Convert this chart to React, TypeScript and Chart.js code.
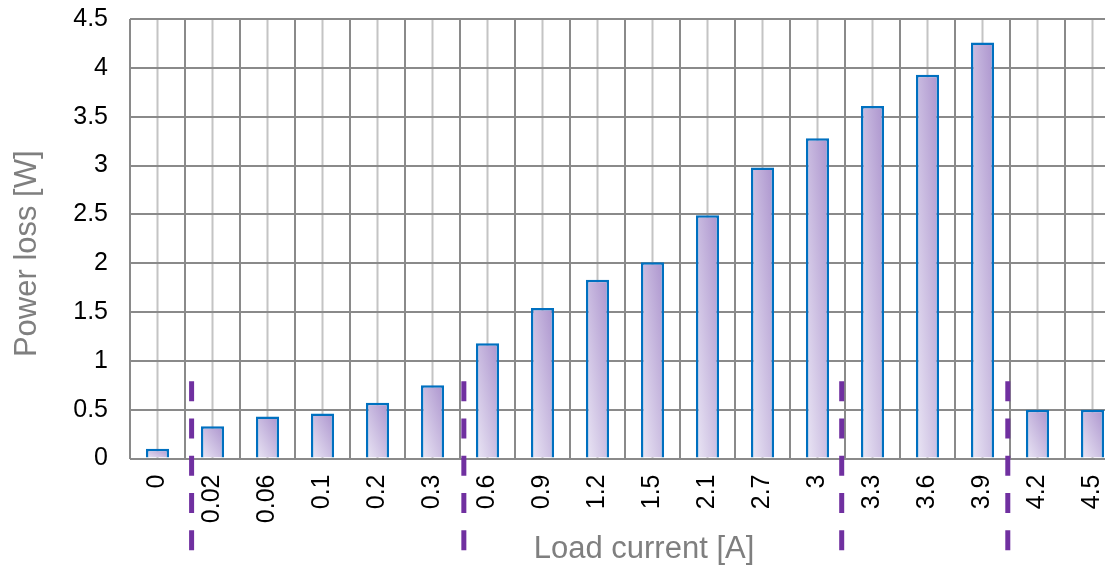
import React, { useEffect, useRef } from "react";
import { Chart, registerables } from "chart.js";

Chart.register(...registerables);

// ---- Data ----
const categories = ["0", "0.02", "0.06", "0.1", "0.2", "0.3", "0.6", "0.9", "1.2", "1.5", "2.1", "2.7", "3", "3.3", "3.6", "3.9", "4.2", "4.5"];
const powerLoss = [0.1, 0.33, 0.43, 0.46, 0.57, 0.75, 1.18, 1.54, 1.83, 2.01, 2.49, 2.98, 3.28, 3.61, 3.93, 4.26, 0.5, 0.5];
const yMin = 0;
const yMax = 4.5;
const yStep = 0.5;
// dashed separators, in category-index units
const separatorPositions = [0.62, 5.57, 12.44, 15.46];
// vertical extent of separators, in y-value units (top, bottom)
const separatorValueRange = [0.79, -0.96];

const FONT = '"Liberation Sans", Arial, sans-serif';
const GRID_DARK = "#8a8a8a";
const GRID_LIGHT = "#c4c4c4";
const BAR_LIGHT = "#ebe7f5";
const BAR_DARK = "#ab93cd";
const BAR_BORDER = "#0070c0";
const SEP_COLOR = "#7030a0";
const BAR_PCT = 0.42;

const centerGridPlugin = {
  id: "centerGrid",
  beforeDraw(chart: any) {
    const { ctx, chartArea, scales } = chart;
    const x = scales.x;
    if (!x || !chartArea) return;
    ctx.save();
    ctx.strokeStyle = GRID_LIGHT;
    ctx.lineWidth = 2;
    categories.forEach((_, i) => {
      const px = x.getPixelForValue(i);
      ctx.beginPath();
      ctx.moveTo(px, chartArea.top);
      ctx.lineTo(px, chartArea.bottom);
      ctx.stroke();
    });
    ctx.restore();
  },
};

const separatorPlugin = {
  id: "separators",
  afterDraw(chart: any) {
    const { ctx, scales } = chart;
    const x = scales.x;
    const y = scales.y;
    const top = y.getPixelForValue(separatorValueRange[0]);
    const bottom = y.getPixelForValue(separatorValueRange[1]);
    const step = x.getPixelForValue(1) - x.getPixelForValue(0);
    ctx.save();
    ctx.strokeStyle = SEP_COLOR;
    ctx.lineWidth = 5;
    ctx.lineCap = "butt";
    ctx.setLineDash([20, 17.25]);
    separatorPositions.forEach((p) => {
      const px = x.getPixelForValue(0) + p * step;
      ctx.beginPath();
      ctx.moveTo(px, top);
      ctx.lineTo(px, bottom);
      ctx.stroke();
    });
    ctx.restore();
  },
};

function barGradient(context: any) {
  const chart = context.chart;
  const scales = chart.scales;
  if (!scales || !scales.x || !scales.y || !chart.chartArea) return BAR_DARK;
  const x = scales.x;
  const y = scales.y;
  const i = context.dataIndex;
  const v = powerLoss[i];
  const step = x.getPixelForValue(1) - x.getPixelForValue(0);
  const cx = x.getPixelForValue(i);
  const w = step * BAR_PCT;
  const L = cx - w / 2;
  const B = y.getPixelForValue(0);
  const T = y.getPixelForValue(v);
  const h = Math.max(1, B - T);
  const k = (2 * w * h) / (h * h + w * w);
  const g = chart.ctx.createLinearGradient(L, B, L + h * k, B - w * k);
  g.addColorStop(0, BAR_LIGHT);
  g.addColorStop(1, BAR_DARK);
  return g;
}

// shift an axis title slightly (the source centers titles a bit off the plot centre)
function shiftTitle(scale: any, dx: number, dy: number) {
  if (scale._titleShifted) return;
  const proto = Object.getPrototypeOf(scale);
  scale.drawTitle = function (...args: any[]) {
    const ctx = this.ctx;
    ctx.save();
    ctx.translate(dx, dy);
    proto.drawTitle.apply(this, args);
    ctx.restore();
  };
  scale._titleShifted = true;
}

export default function App() {
  const canvasRef = useRef<HTMLCanvasElement | null>(null);

  useEffect(() => {
    const canvas = canvasRef.current;
    if (!canvas) return;
    const chart = new Chart(canvas, {
      type: "bar",
      data: {
        labels: categories,
        datasets: [
          {
            data: powerLoss,
            backgroundColor: barGradient as any,
            borderColor: BAR_BORDER,
            borderWidth: 2.5,
            barPercentage: BAR_PCT,
            categoryPercentage: 1,
          },
        ],
      },
      options: {
        responsive: false,
        animation: false,
        devicePixelRatio: 1,
        layout: { padding: { top: 19, right: 0, left: 0, bottom: 0 } },
        plugins: {
          legend: { display: false },
          tooltip: { enabled: false },
        },
        scales: {
          x: {
            offset: true,
            grid: { offset: true, color: GRID_DARK, lineWidth: 2, drawTicks: false },
            border: { display: false },
            ticks: {
              autoSkip: false,
              maxRotation: 90,
              minRotation: 90,
              padding: 16,
              color: "#000000",
              font: { family: FONT, size: 25 },
            },
            title: {
              display: true,
              text: "Load current [A]",
              color: "#7f7f7f",
              font: { family: FONT, size: 31 },
              padding: { top: 0, bottom: 0 },
            },
            afterFit(scale: any) {
              scale.height = 108.5;
              scale.paddingLeft = 0;
              scale.paddingRight = 0;
              shiftTitle(scale, 19, 1);
            },
          },
          y: {
            min: yMin,
            max: yMax,
            grid: { color: GRID_DARK, lineWidth: 2, drawTicks: false },
            border: { display: false },
            ticks: {
              stepSize: yStep,
              padding: 22,
              color: "#000000",
              font: { family: FONT, size: 25 },
              callback: (v: any) => String(Number(v)),
            },
            title: {
              display: true,
              text: "Power loss [W]",
              color: "#7f7f7f",
              font: { family: FONT, size: 31 },
              padding: { top: 9, bottom: 0 },
            },
            afterFit(scale: any) {
              scale.width = 130;
              scale.paddingTop = 0;
              scale.paddingBottom = 0;
              shiftTitle(scale, 0, 15);
            },
          },
        },
      },
      plugins: [centerGridPlugin, separatorPlugin],
    });
    return () => chart.destroy();
  }, []);

  return (
    <div
      style={{
        position: "fixed",
        left: 0,
        top: 0,
        width: 1105,
        height: 567,
        overflow: "hidden",
        background: "#ffffff",
      }}
    >
      <canvas ref={canvasRef} width={1120} height={567} style={{ display: "block" }} />
    </div>
  );
}
